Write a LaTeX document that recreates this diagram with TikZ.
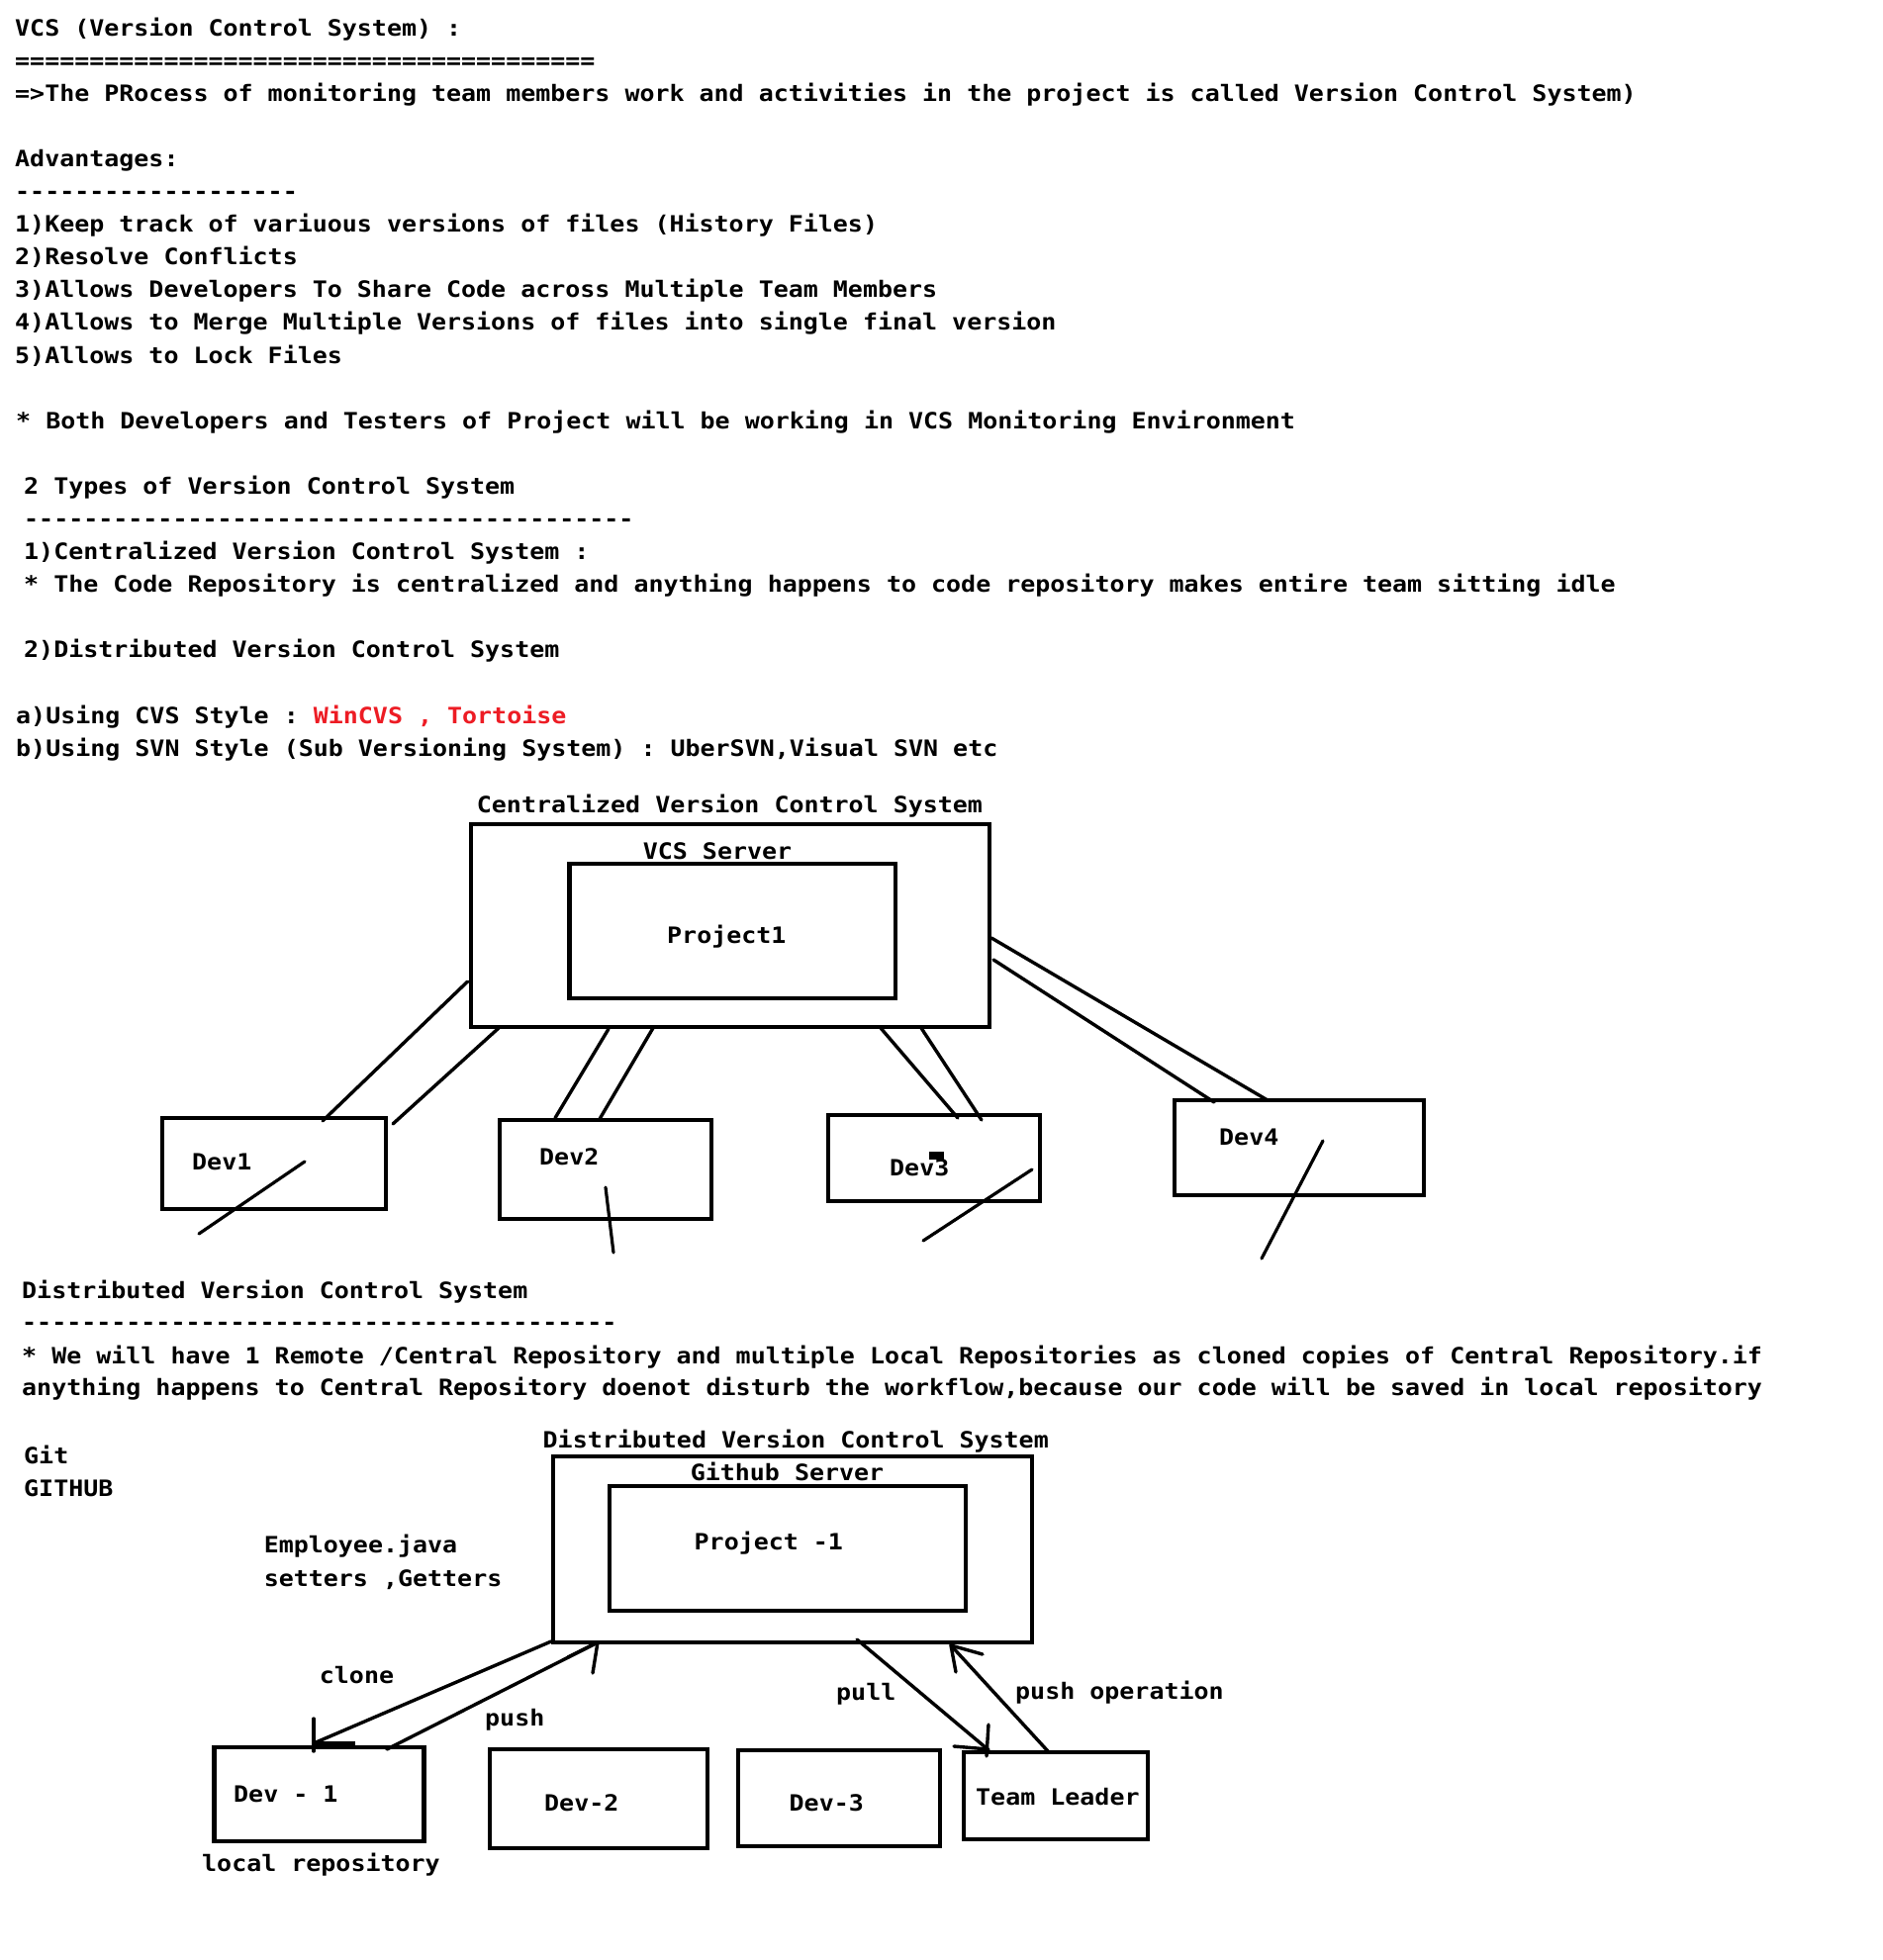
\documentclass[tikz,border=0pt]{standalone}
\usepackage{fontspec}
\setmonofont{DejaVu Sans Mono}[FakeStretch=1.1]
\definecolor{paintred}{RGB}{237,28,36}
\begin{document}
\begin{tikzpicture}[x=1pt,y=-1pt,
  txt/.style={anchor=base west,inner sep=0pt,font=\ttfamily\bfseries\fontsize{22.7}{33}\selectfont},
  ctxt/.style={txt,anchor=base},
  box/.style={draw,line width=4.5pt,inner sep=0pt},
  link/.style={line width=3.4pt,line cap=round},
  slash/.style={line width=3.2pt,line cap=round}]
\useasboundingbox[fill=white] (0,0) rectangle (1903,1981);

% ---------- notes ----------
\node[txt] (t0)  at (15,36)    {VCS (Version Control System) :};
\node[txt] (t1)  at (15,69)    {=======================================};
\node[txt] (t2)  at (15,102)   {=>The PRocess of monitoring team members work and activities in the project is called Version Control System)};
\node[txt] (t4)  at (15,168.4) {Advantages:};
\node[txt] (t5)  at (15,201.5) {-------------------};
\node[txt] (t6)  at (15,234.6) {1)Keep track of variuous versions of files (History Files)};
\node[txt] (t7)  at (15,267.7) {2)Resolve Conflicts};
\node[txt] (t8)  at (15,300.8) {3)Allows Developers To Share Code across Multiple Team Members};
\node[txt] (t9)  at (15,333.9) {4)Allows to Merge Multiple Versions of files into single final version};
\node[txt] (t10) at (15,367)   {5)Allows to Lock Files};
\node[txt] (t12) at (16,433.2) {* Both Developers and Testers of Project will be working in VCS Monitoring Environment};
\node[txt] (t14) at (24,499.4) {2 Types of Version Control System};
\node[txt] (t15) at (24,532.5) {-----------------------------------------};
\node[txt] (t16) at (24,565.6) {1)Centralized Version Control System :};
\node[txt] (t17) at (24,598.7) {* The Code Repository is centralized and anything happens to code repository makes entire team sitting idle};
\node[txt] (t19) at (24,664.9) {2)Distributed Version Control System};
\node[txt] (t21) at (16,731.1) {a)Using CVS Style : {\color{paintred}WinCVS , Tortoise}};
\node[txt] (t22) at (16,764.2) {b)Using SVN Style (Sub Versioning System) : UberSVN,Visual SVN etc};

% ---------- centralized diagram ----------
\node[txt] (ctitle) at (481.7,821.7) {Centralized Version Control System};
\node[box,minimum width=524pt,minimum height=205pt] (srv) at (738,935.5) {};
\node[ctxt] (srvlbl) at (725,868) {VCS Server};
\node[box,minimum width=329.5pt,minimum height=136pt] (prj) at (740,941) {};
\node[txt] (prjlbl) at (674,953) {Project1};

\node[box,minimum width=226pt,minimum height=92pt]  (dev1) at (277,1176) {};
\node[box,minimum width=214pt,minimum height=100pt] (dev2) at (612,1182) {};
\node[box,minimum width=214pt,minimum height=87pt]  (dev3) at (944,1170.5) {};
\node[box,minimum width=252pt,minimum height=96pt]  (dev4) at (1313,1160) {};
\node[txt] (dev1lbl) at (194,1182) {Dev1};
\node[txt] (dev2lbl) at (545,1177) {Dev2};
\node[txt] (dev3lbl) at (899,1188) {Dev3};
\node[txt] (dev4lbl) at (1232,1157) {Dev4};
\fill (939,1164) rectangle (954,1172);

% server-to-developer links
\coordinate (a1) at (472.6,992);  \coordinate (b1) at (326,1133);
\coordinate (a2) at (504,1039);   \coordinate (b2) at (397,1136);
\coordinate (a3) at (615,1040);   \coordinate (b3) at (561,1130);
\coordinate (a4) at (660,1039);   \coordinate (b4) at (606,1131);
\coordinate (a5) at (890,1039);   \coordinate (b5) at (968,1130);
\coordinate (a6) at (931,1039);   \coordinate (b6) at (992,1132);
\coordinate (a7) at (1002,948);   \coordinate (b7) at (1281,1112);
\coordinate (a8) at (1004,970);   \coordinate (b8) at (1227,1114);
\foreach \i in {1,...,8} {\draw[link] (a\i) -- (b\i);}

% strike-through marks on the developers
\coordinate (s1a) at (308,1174);  \coordinate (s1b) at (201,1247);
\coordinate (s2a) at (612,1200);  \coordinate (s2b) at (620,1266);
\coordinate (s3a) at (1043,1182); \coordinate (s3b) at (933,1254);
\coordinate (s4a) at (1337,1153); \coordinate (s4b) at (1275,1272);
\foreach \i in {1,...,4} {\draw[slash] (s\i a) -- (s\i b);}

% ---------- distributed notes ----------
\node[txt] (u0) at (22,1312) {Distributed Version Control System};
\node[txt] (u1) at (22,1344.5) {----------------------------------------};
\node[txt] (u2) at (22,1378) {* We will have 1 Remote /Central Repository and multiple Local Repositories as cloned copies of Central Repository.if};
\node[txt] (u3) at (22,1410) {anything happens to Central Repository doenot disturb the workflow,because our code will be saved in local repository};
\node[txt] (git) at (24,1479) {Git};
\node[txt] (gh)  at (24,1512) {GITHUB};
\node[txt] (emp) at (266.6,1569) {Employee.java};
\node[txt] (set) at (266.6,1603) {setters ,Getters};

% ---------- distributed diagram ----------
\node[txt] (dtitle) at (548.5,1463) {Distributed Version Control System};
\node[box,minimum width=484pt,minimum height=188pt] (gsrv) at (801,1566) {};
\node[ctxt] (gsrvlbl) at (795.5,1496) {Github Server};
\node[box,minimum width=360pt,minimum height=126pt] (gprj) at (796,1565) {};
\node[txt] (gprjlbl) at (701.5,1566) {Project -1};

\node[box,minimum width=212pt,minimum height=95pt]  (d1) at (322.5,1813.5) {};
\node[box,minimum width=220pt,minimum height=100pt] (d2) at (605,1818) {};
\node[box,minimum width=204pt,minimum height=97pt]  (d3) at (848,1817.5) {};
\node[box,minimum width=186pt,minimum height=88pt]  (tl) at (1067,1815) {};
\node[txt] (d1lbl) at (236,1821) {Dev - 1};
\node[txt] (d2lbl) at (550,1830) {Dev-2};
\node[txt] (d3lbl) at (797.5,1830.7) {Dev-3};
\node[txt] (tllbl) at (986,1824) {Team Leader};
\node[txt] (local) at (204,1891) {local repository};

\node[txt] (clonelbl) at (322.7,1701) {clone};
\node[txt] (pushlbl)  at (490,1744)   {push};
\node[txt] (pulllbl)  at (845,1718)   {pull};
\node[txt] (pushop)   at (1026,1717)  {push operation};

% clone: server -> Dev - 1
\coordinate (cl0) at (557,1659);  \coordinate (cl1) at (317,1762);
\draw[link] (cl0) -- (cl1);
\draw[link] (317,1737) -- (317,1770);
\draw[line width=4.5pt] (317,1762) -- (359,1762);
% push: Dev - 1 -> server
\coordinate (pu0) at (391,1768);  \coordinate (pu1) at (604,1660);
\draw[link] (pu0) -- (pu1);
\draw[link] (pu1) -- (599,1691);
\draw[link] (pu1) -- (574,1675);
% pull: server -> Team Leader
\coordinate (pl0) at (866,1657);  \coordinate (pl1) at (997,1767);
\draw[link] (pl0) -- (pl1);
\draw[link] (999,1743) -- (997,1775);
\draw[link] (964,1765) -- (999,1768);
% push operation: Team Leader -> server
\coordinate (po0) at (1060,1771); \coordinate (po1) at (961,1663);
\draw[link] (po0) -- (po1);
\draw[link] (po1) -- (966,1690);
\draw[link] (po1) -- (993,1672);
\end{tikzpicture}
\end{document}
